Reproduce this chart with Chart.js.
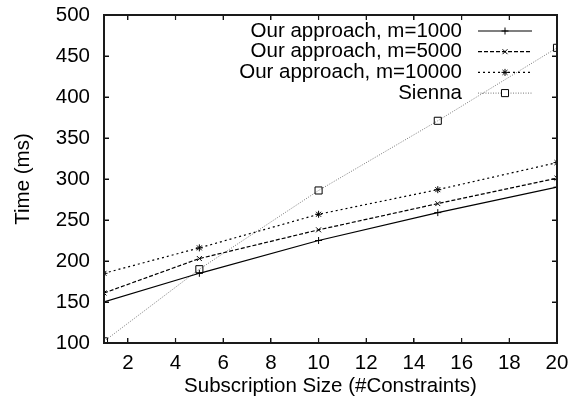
<!DOCTYPE html>
<html>
<head>
<meta charset="utf-8">
<script src="https://cdn.jsdelivr.net/npm/chart.js@4/dist/chart.umd.min.js"></script>
<style>
  html, body { margin: 0; padding: 0; background: #fff; }
  #wrap { width: 571px; height: 408px; }
</style>
</head>
<body>
<div id="wrap"><canvas id="chart"></canvas></div>
<script>
// values
const sizes = [1, 5, 10, 15, 20];
const m1000 = [150, 185, 225, 259, 290];
const m5000 = [161, 203, 238, 270, 301];
const m10000 = [185, 216, 257, 287, 320];
const sienna = [102, 190, 286, 371, 460];
const seriesNames = ["Our approach, m=1000", "Our approach, m=5000", "Our approach, m=10000", "Sienna"];
const xTicks = [2, 4, 6, 8, 10, 12, 14, 16, 18, 20];
const yTicks = [100, 150, 200, 250, 300, 350, 400, 450, 500];

const FONT = "'Liberation Sans', Arial, Helvetica, sans-serif";
const FS = 20.5;

function pts(ys) {
    return sizes.map((x, i) => ({ x: x, y: ys[i] }));
}

const styles = [
    { color: "#000", dash: [], width: 1.2, point: "cross", r: 3.5 },
    { color: "#000", dash: [4, 2], width: 1.2, point: "crossRot", r: 3.5 },
    { color: "#000", dash: [2, 3], width: 1.2, point: "star", r: 3.5 },
    { color: "#777", dash: [1, 1.5], width: 1, point: "rect", r: 5 }
];
const seriesData = [m1000, m5000, m10000, sienna];

const datasets = seriesData.map((d, i) => ({
    label: seriesNames[i],
    data: pts(d),
    borderColor: styles[i].color,
    borderWidth: styles[i].width,
    borderDash: styles[i].dash,
    pointStyle: styles[i].point,
    pointRadius: styles[i].r,
    pointBorderColor: "#000",
    pointBackgroundColor: "rgba(0,0,0,0)",
    pointBorderWidth: 1,
    fill: false,
    tension: 0
}));

// gnuplot style key inside the top right corner, then the frame and inward ticks
const key = {
    id: "gpkey",
    afterDraw(chart) {
        const ctx = chart.ctx;
        chart.data.datasets.forEach((ds, i) => {
            const y = 31 + i * 20.7;
            ctx.save();
            ctx.font = FS + "px " + FONT;
            ctx.textAlign = "right";
            ctx.textBaseline = "middle";
            ctx.fillStyle = "#000";
            ctx.fillText(ds.label, 462, y);
            ctx.strokeStyle = ds.borderColor;
            ctx.lineWidth = ds.borderWidth;
            if (ds.borderDash.length) ctx.setLineDash(ds.borderDash);
            ctx.beginPath();
            ctx.moveTo(478, y); ctx.lineTo(532, y);
            ctx.stroke();
            ctx.restore();
            ctx.save();
            ctx.fillStyle = "#fff";
            ctx.strokeStyle = "#000";
            ctx.lineWidth = 1;
            Chart.helpers.drawPoint(ctx, {
                pointStyle: ds.pointStyle, radius: ds.pointRadius, rotation: 0, borderWidth: 1
            }, 505, y);
            ctx.restore();
        });

        const xs = chart.scales.x, ys = chart.scales.y;
        const L = xs.left, R = xs.right, T = ys.top, B = ys.bottom;
        ctx.save();
        ctx.font = "14px " + FONT;
        ctx.fillStyle = "#000";
        ctx.fillText("", L, T);
        ctx.strokeStyle = "#1a1a1a";
        ctx.lineWidth = 2;
        ctx.strokeRect(L, T, R - L, B - T);
        ctx.lineWidth = 1.2;
        ctx.beginPath();
        xTicks.forEach(v => {
            const x = xs.getPixelForValue(v);
            ctx.moveTo(x, B); ctx.lineTo(x, B - 5);
            ctx.moveTo(x, T); ctx.lineTo(x, T + 5);
        });
        yTicks.forEach(v => {
            const y = ys.getPixelForValue(v);
            ctx.moveTo(L, y); ctx.lineTo(L + 5, y);
            ctx.moveTo(R, y); ctx.lineTo(R - 5, y);
        });
        ctx.stroke();
        ctx.restore();
    }
};

// inward tick marks (negative tick length) and a black frame on every side
const frameGrid = { display: true, drawOnChartArea: false, drawTicks: true, tickLength: -5, tickColor: "#000", tickWidth: 1 };
const frameBorder = { display: true, color: "#000", width: 1.5 };

new Chart(document.getElementById("chart"), {
    type: "line",
    data: { datasets: datasets },
    options: {
        responsive: true,
        maintainAspectRatio: false,
        animation: false,
        events: [],
        layout: { padding: 0 },
        plugins: { legend: { display: false }, tooltip: { enabled: false } },
        scales: {
            x: {
                type: "linear",
                min: 1,
                max: 20,
                afterFit: s => { s.height = 65; s.paddingLeft = 0; s.paddingRight = 14; },
                afterBuildTicks: s => { s.ticks = xTicks.map(v => ({ value: v })); },
                grid: frameGrid,
                border: frameBorder,
                ticks: { color: "#000", padding: 13, font: { size: FS, family: FONT }, maxRotation: 0 },
                title: { display: true, text: "Subscription Size (#Constraints)", color: "#000", font: { size: FS, family: FONT }, padding: { bottom: 9, top: 0 } }
            },
            x2: {
                type: "linear",
                axis: "x",
                position: "top",
                min: 1,
                max: 20,
                afterFit: s => { s.height = 0; s.paddingLeft = 0; s.paddingRight = 0; },
                afterBuildTicks: s => { s.ticks = xTicks.map(v => ({ value: v })); },
                grid: frameGrid,
                border: frameBorder,
                ticks: { display: false }
            },
            y: {
                min: 100,
                max: 500,
                afterFit: s => { s.width = 104; s.paddingTop = 15; s.paddingBottom = 0; },
                afterBuildTicks: s => { s.ticks = yTicks.map(v => ({ value: v })); },
                grid: frameGrid,
                border: frameBorder,
                ticks: { color: "#000", padding: 19, font: { size: FS, family: FONT } },
                title: { display: true, text: "Time (ms)", color: "#000", font: { size: FS, family: FONT }, padding: { top: 11, bottom: 0 } }
            },
            y2: {
                type: "linear",
                axis: "y",
                position: "right",
                min: 100,
                max: 500,
                afterFit: s => { s.width = 0; s.paddingTop = 0; s.paddingBottom = 0; },
                afterBuildTicks: s => { s.ticks = yTicks.map(v => ({ value: v })); },
                grid: frameGrid,
                border: frameBorder,
                ticks: { display: false }
            }
        }
    },
    plugins: [key]
});
</script>
</body>
</html>
